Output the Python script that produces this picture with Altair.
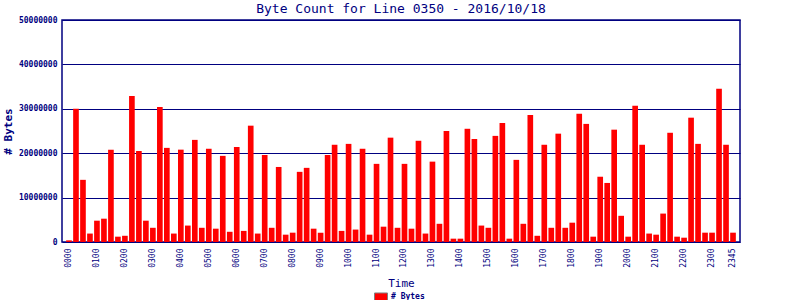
import altair as alt
import pandas as pd

# 15-minute intervals over the day
times = [f"{h:02d}{m:02d}" for h in range(24) for m in (0, 15, 30, 45)]

# Byte counts (millions)
bytes_millions = [
    0.37, 30.0, 14.0, 1.9, 4.8, 5.25, 20.8, 1.2,
    1.4, 32.9, 20.5, 4.8, 3.2, 30.4, 21.2, 1.9,
    20.8, 3.7, 23.0, 3.2, 21.0, 3.0, 19.4, 2.3,
    21.4, 2.5, 26.2, 1.9, 19.6, 3.2, 16.9, 1.65,
    2.1, 15.8, 16.7, 3.0, 2.1, 19.6, 21.9, 2.5,
    22.1, 2.8, 21.0, 1.65, 17.6, 3.45, 23.5, 3.2,
    17.6, 3.0, 22.8, 1.9, 18.1, 4.1, 25.0, 0.75,
    0.75, 25.5, 23.2, 3.7, 3.2, 23.9, 26.8, 0.75,
    18.5, 4.1, 28.6, 1.4, 21.9, 3.2, 24.4, 3.2,
    4.35, 28.9, 26.6, 1.2, 14.7, 13.3, 25.3, 5.9,
    1.2, 30.7, 21.9, 1.9, 1.65, 6.4, 24.6, 1.2,
    0.97, 28.0, 22.1, 2.1, 2.1, 34.5, 21.9, 2.1,
]

tick_labels = [
    "0000", "0100", "0200", "0300", "0400", "0500", "0600", "0700",
    "0800", "0900", "1000", "1100", "1200", "1300", "1400", "1500",
    "1600", "1700", "1800", "1900", "2000", "2100", "2200", "2300", "2345",
]
y_ticks = [0, 10000000, 20000000, 30000000, 40000000, 50000000]

series_name = "# Bytes"

df = pd.DataFrame({
    "Time": times,
    "Bytes": [round(v * 1_000_000) for v in bytes_millions],
    "Series": series_name,
})

NAVY = "#000080"
FONT = "DejaVu Sans Mono"

chart = (
    alt.Chart(df)
    .mark_bar(color="#ff0000")
    .encode(
        x=alt.X(
            "Time:N",
            sort=times,
            scale=alt.Scale(paddingInner=0.19, paddingOuter=0.595),
            axis=alt.Axis(
                values=tick_labels,
                labelAngle=270,
                labelFont=FONT,
                labelFontSize=8,
                labelColor=NAVY,
                labelPadding=6,
                ticks=False,
                domain=False,
                title="Time",
                titleFont=FONT,
                titleFontSize=11,
                titleFontWeight="normal",
                titleColor=NAVY,
                titleX=339,
                titleY=41,
                titleBaseline="middle",
            ),
        ),
        y=alt.Y(
            "Bytes:Q",
            scale=alt.Scale(domain=[0, 50000000], nice=False),
            axis=alt.Axis(
                values=y_ticks,
                format="d",
                labelFont=FONT,
                labelFontSize=8,
                labelFontWeight="bold",
                labelColor=NAVY,
                labelPadding=5,
                ticks=False,
                domain=False,
                grid=True,
                gridColor=NAVY,
                gridWidth=1.2,
                gridOpacity=1,
                title="# Bytes",
                titleFont=FONT,
                titleFontSize=11,
                titleFontWeight="bold",
                titleColor=NAVY,
                titleAngle=270,
                titleX=-54,
                titleY=111,
                titleAlign="center",
                titleBaseline="middle",
            ),
        ),
        fill=alt.Fill(
            "Series:N",
            scale=alt.Scale(domain=[series_name], range=["#ff0000"]),
            legend=alt.Legend(
                title=None,
                orient="none",
                legendX=312,
                legendY=270,
                padding=0,
                symbolType="M-1,-0.62H1V0.62H-1Z",
                symbolSize=169,
                symbolStrokeColor="#808080",
                symbolStrokeWidth=1,
                symbolOpacity=1,
                labelFont=FONT,
                labelFontSize=8,
                labelFontWeight="bold",
                labelColor=NAVY,
                labelOffset=3,
            ),
        ),
    )
    .properties(
        width=678,
        height=222,
        title=alt.TitleParams(
            "Byte Count for Line 0350 - 2016/10/18",
            font=FONT,
            fontSize=13,
            fontWeight="normal",
            color=NAVY,
            anchor="middle",
            offset=0,
        ),
        padding={"left": 62, "top": 20, "right": 60, "bottom": 58},
        autosize=alt.AutoSizeParams(type="none"),
        background="white",
    )
    .configure_view(stroke=NAVY, strokeWidth=1.5)
)

chart.save("out.html", embed_options={"renderer": "svg", "actions": False})
